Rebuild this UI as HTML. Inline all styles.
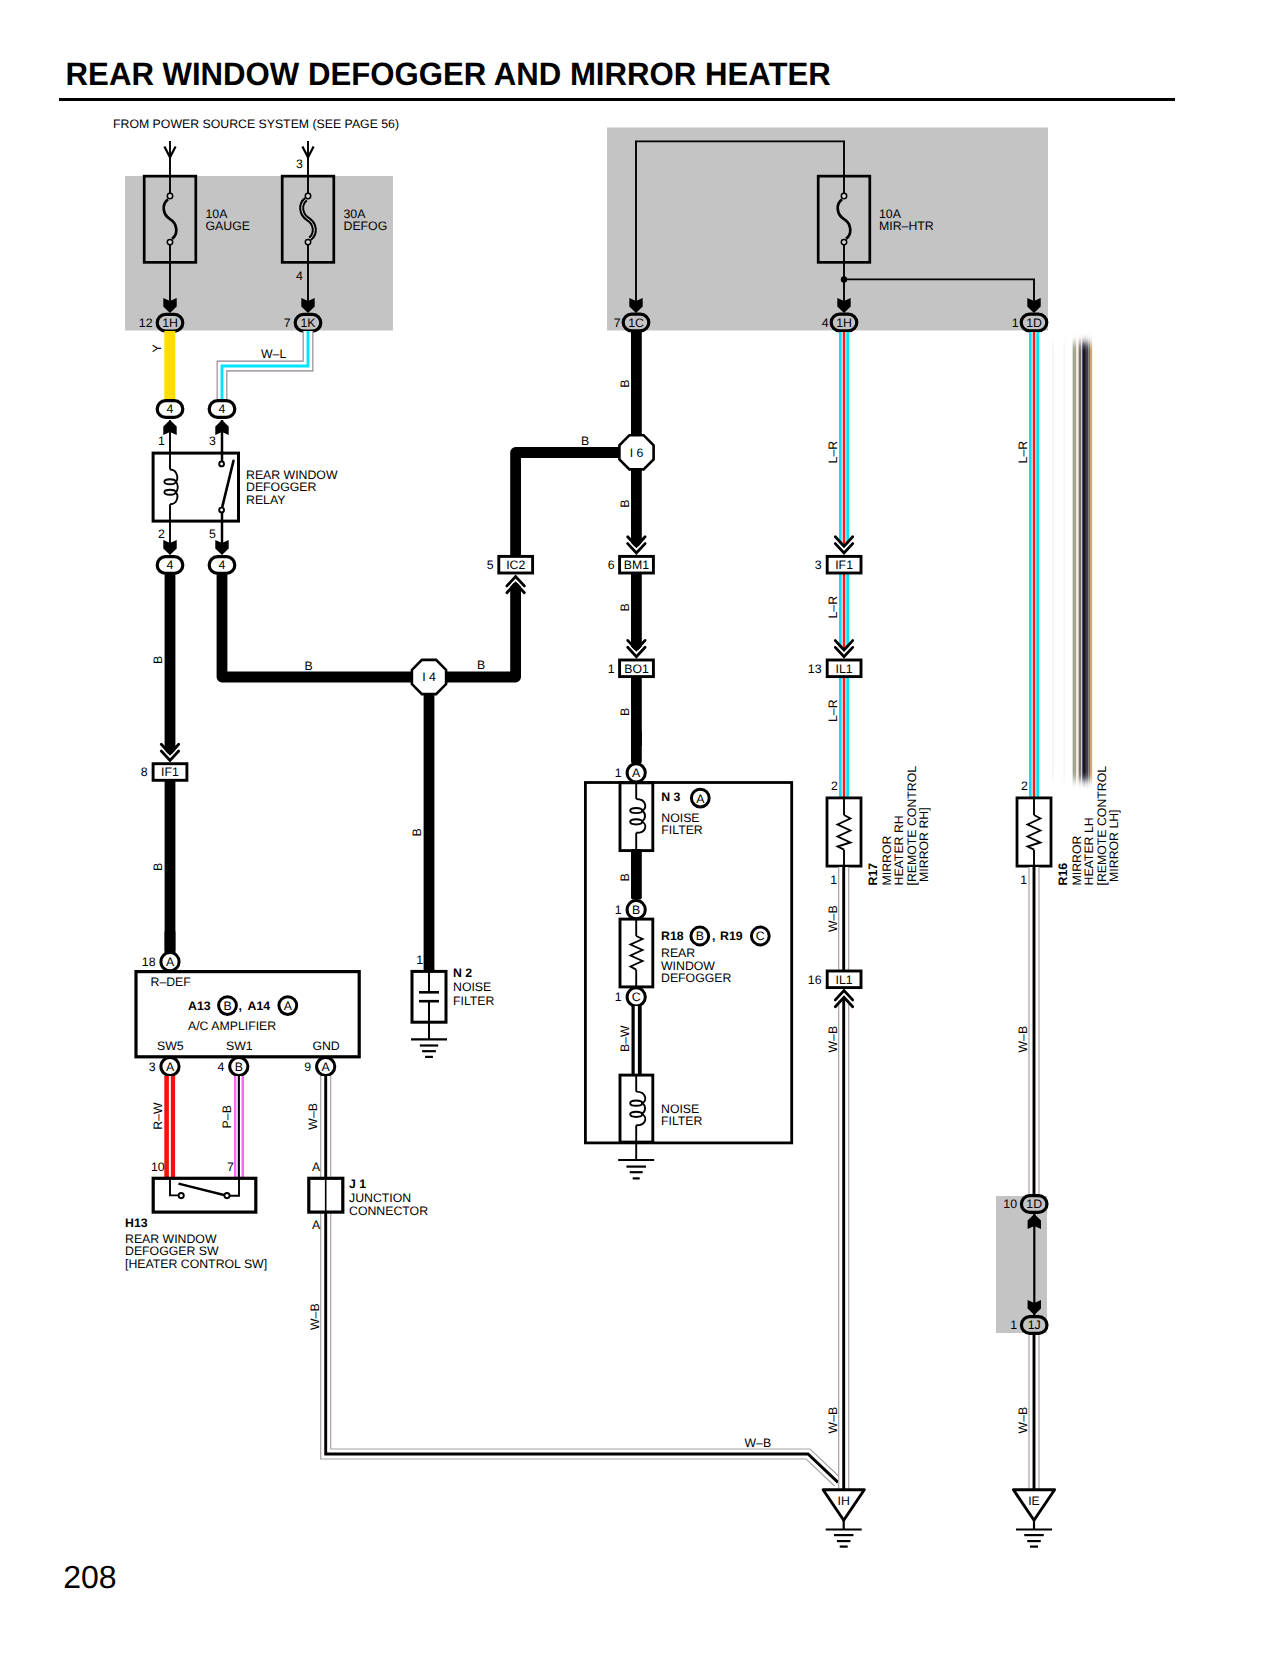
<!DOCTYPE html>
<html><head><meta charset="utf-8"><style>
html,body{margin:0;padding:0;background:#fff;}
svg{display:block;}
text{font-family:"Liberation Sans",sans-serif;fill:#000;text-rendering:geometricPrecision;}
.t{}
</style></head><body>
<svg width="1280" height="1656" viewBox="0 0 1280 1656">
<text transform="translate(65.6,85.3) scale(0.962,1)" font-size="32.4" font-weight="bold">REAR WINDOW DEFOGGER AND MIRROR HEATER</text>
<rect x="59" y="98" width="1116" height="3" fill="#000"/>
<text x="113" y="128" font-size="12.3" text-anchor="start" class="t" >FROM POWER SOURCE SYSTEM (SEE PAGE 56)</text>
<text x="63.2" y="1587.6" font-size="32" text-anchor="start" class="t" >208</text>
<rect x="125" y="176" width="268" height="154.5" fill="#c4c4c4"/>
<rect x="607" y="127.5" width="441" height="203" fill="#c4c4c4"/>
<rect x="996" y="1196" width="51" height="137" fill="#c4c4c4"/>
<path d="M164.4,146.5 L170,157.3 L175.6,146.5" stroke="#000" stroke-width="2.2" fill="none" stroke-linejoin="miter" stroke-linecap="butt"/>
<path d="M302.4,146.5 L308,157.3 L313.6,146.5" stroke="#000" stroke-width="2.2" fill="none" stroke-linejoin="miter" stroke-linecap="butt"/>
<rect x="144.2" y="176.14999999999998" width="51.6" height="86.2" stroke="#000" stroke-width="2.7" fill="none"/>
<line x1="170" y1="141" x2="170" y2="193.0" stroke="#000" stroke-width="1.9" stroke-linecap="butt"/>
<line x1="170" y1="245.1" x2="170" y2="306" stroke="#000" stroke-width="1.9" stroke-linecap="butt"/>
<path d="M168,199.3 C161.5,204.0 162.5,214.55 170,219.05 C177.5,223.55 178.5,234.1 172,238.79999999999998" stroke="#000" stroke-width="2.7" fill="none" stroke-linejoin="miter" stroke-linecap="butt"/>
<circle cx="170" cy="196.0" r="2.7" stroke="#000" stroke-width="1.5" fill="#d6dada"/>
<circle cx="170" cy="242.1" r="2.7" stroke="#000" stroke-width="1.5" fill="#d6dada"/>
<text x="205.5" y="217.7" font-size="12.3" text-anchor="start" class="t" >10A</text>
<text x="205.5" y="230.2" font-size="12.3" text-anchor="start" class="t" >GAUGE</text>
<rect x="282.2" y="176.14999999999998" width="51.6" height="86.2" stroke="#000" stroke-width="2.7" fill="none"/>
<line x1="308" y1="141" x2="308" y2="193.0" stroke="#000" stroke-width="1.9" stroke-linecap="butt"/>
<line x1="308" y1="245.1" x2="308" y2="306" stroke="#000" stroke-width="1.9" stroke-linecap="butt"/>
<path d="M306,199.3 C299.5,204.0 300.5,214.55 308,219.05 C315.5,223.55 316.5,234.1 310,238.79999999999998" stroke="#000" stroke-width="5.0" fill="none" stroke-linejoin="miter" stroke-linecap="butt"/>
<path d="M306,199.3 C299.5,204.0 300.5,214.55 308,219.05 C315.5,223.55 316.5,234.1 310,238.79999999999998" stroke="#e0e0e0" stroke-width="1.0" fill="none" stroke-linejoin="miter" stroke-linecap="butt"/>
<circle cx="308" cy="196.0" r="2.7" stroke="#000" stroke-width="1.5" fill="#d6dada"/>
<circle cx="308" cy="242.1" r="2.7" stroke="#000" stroke-width="1.5" fill="#d6dada"/>
<text x="343.5" y="217.7" font-size="12.3" text-anchor="start" class="t" >30A</text>
<text x="343.5" y="230.2" font-size="12.3" text-anchor="start" class="t" >DEFOG</text>
<text x="296" y="168.3" font-size="12.3" text-anchor="start" class="t" >3</text>
<text x="296" y="280" font-size="12.3" text-anchor="start" class="t" >4</text>
<polygon points="163.30,298.00 170.00,301.00 176.70,298.00 176.70,306.40 170.00,313.00 163.30,306.40" fill="#000"/>
<polygon points="301.30,298.00 308.00,301.00 314.70,298.00 314.70,306.40 308.00,313.00 301.30,306.40" fill="#000"/>
<rect x="157.2" y="314.3" width="25.6" height="16.8" rx="8.4" stroke="#000" stroke-width="3.2" fill="#c4c4c4"/>
<text x="170" y="327.09999999999997" font-size="12.3" text-anchor="middle" class="t" >1H</text>
<rect x="295.2" y="314.3" width="25.6" height="16.8" rx="8.4" stroke="#000" stroke-width="3.2" fill="#c4c4c4"/>
<text x="308" y="327.09999999999997" font-size="12.3" text-anchor="middle" class="t" >1K</text>
<text x="152.5" y="326.6" font-size="12.3" text-anchor="end" class="t" >12</text>
<text x="290.5" y="326.6" font-size="12.3" text-anchor="end" class="t" >7</text>
<path d="M636,306 L636,141.4 L844,141.4 L844,178" stroke="#000" stroke-width="1.9" fill="none" stroke-linejoin="miter" stroke-linecap="butt"/>
<path d="M844,279.4 L1034,279.4 L1034,306" stroke="#000" stroke-width="1.9" fill="none" stroke-linejoin="miter" stroke-linecap="butt"/>
<circle cx="844" cy="279.4" r="3.2" fill="#000"/>
<rect x="818.2" y="176.14999999999998" width="51.6" height="86.2" stroke="#000" stroke-width="2.7" fill="none"/>
<line x1="844" y1="178" x2="844" y2="193.0" stroke="#000" stroke-width="1.9" stroke-linecap="butt"/>
<line x1="844" y1="245.1" x2="844" y2="306" stroke="#000" stroke-width="1.9" stroke-linecap="butt"/>
<path d="M842,199.3 C835.5,204.0 836.5,214.55 844,219.05 C851.5,223.55 852.5,234.1 846,238.79999999999998" stroke="#000" stroke-width="2.7" fill="none" stroke-linejoin="miter" stroke-linecap="butt"/>
<circle cx="844" cy="196.0" r="2.7" stroke="#000" stroke-width="1.5" fill="#d6dada"/>
<circle cx="844" cy="242.1" r="2.7" stroke="#000" stroke-width="1.5" fill="#d6dada"/>
<text x="879" y="217.7" font-size="12.3" text-anchor="start" class="t" >10A</text>
<text x="879" y="230.2" font-size="12.3" text-anchor="start" class="t" >MIR–HTR</text>
<polygon points="629.30,298.00 636.00,301.00 642.70,298.00 642.70,306.40 636.00,313.00 629.30,306.40" fill="#000"/>
<polygon points="837.30,298.00 844.00,301.00 850.70,298.00 850.70,306.40 844.00,313.00 837.30,306.40" fill="#000"/>
<polygon points="1027.30,298.00 1034.00,301.00 1040.70,298.00 1040.70,306.40 1034.00,313.00 1027.30,306.40" fill="#000"/>
<rect x="623.2" y="314.1" width="25.6" height="16.8" rx="8.4" stroke="#000" stroke-width="3.2" fill="#c4c4c4"/>
<text x="636" y="326.9" font-size="12.3" text-anchor="middle" class="t" >1C</text>
<rect x="831.2" y="314.1" width="25.6" height="16.8" rx="8.4" stroke="#000" stroke-width="3.2" fill="#c4c4c4"/>
<text x="844" y="326.9" font-size="12.3" text-anchor="middle" class="t" >1H</text>
<rect x="1021.2" y="314.1" width="25.6" height="16.8" rx="8.4" stroke="#000" stroke-width="3.2" fill="#c4c4c4"/>
<text x="1034" y="326.9" font-size="12.3" text-anchor="middle" class="t" >1D</text>
<text x="620.5" y="326.6" font-size="12.3" text-anchor="end" class="t" >7</text>
<text x="828.5" y="326.6" font-size="12.3" text-anchor="end" class="t" >4</text>
<text x="1018.5" y="326.6" font-size="12.3" text-anchor="end" class="t" >1</text>
<rect x="164.3" y="331" width="11" height="68" fill="#ffdd00"/>
<path d="M308,331 L308,366 L222,366 L222,400" stroke="#8c8290" stroke-width="10.8" fill="none" stroke-linejoin="miter" stroke-linecap="butt"/>
<path d="M308,331 L308,366 L222,366 L222,400" stroke="#fff" stroke-width="8.6" fill="none" stroke-linejoin="miter" stroke-linecap="butt"/>
<path d="M308,331 L308,366 L222,366 L222,400" stroke="#00e4ff" stroke-width="2.9" fill="none" stroke-linejoin="miter" stroke-linecap="butt"/>
<text transform="translate(160.5,352.5) rotate(-90)" font-size="12.3" text-anchor="start" class="t">Y</text>
<text x="261" y="358" font-size="12.3" text-anchor="start" class="t" >W–L</text>
<rect x="157.2" y="400.6" width="25.6" height="16.8" rx="8.4" stroke="#000" stroke-width="3.2" fill="#fff"/>
<text x="170" y="413.4" font-size="12.3" text-anchor="middle" class="t" >4</text>
<rect x="209.2" y="400.6" width="25.6" height="16.8" rx="8.4" stroke="#000" stroke-width="3.2" fill="#fff"/>
<text x="222" y="413.4" font-size="12.3" text-anchor="middle" class="t" >4</text>
<line x1="222" y1="420" x2="222" y2="463" stroke="#000" stroke-width="2.5" stroke-linecap="butt"/>
<line x1="222" y1="510" x2="222" y2="552" stroke="#000" stroke-width="2.5" stroke-linecap="butt"/>
<polygon points="163.30,435.00 170.00,432.00 176.70,435.00 176.70,426.60 170.00,420.00 163.30,426.60" fill="#000"/>
<polygon points="215.30,435.00 222.00,432.00 228.70,435.00 228.70,426.60 222.00,420.00 215.30,426.60" fill="#000"/>
<polygon points="163.30,540.00 170.00,543.00 176.70,540.00 176.70,548.40 170.00,555.00 163.30,548.40" fill="#000"/>
<polygon points="215.30,540.00 222.00,543.00 228.70,540.00 228.70,548.40 222.00,555.00 215.30,548.40" fill="#000"/>
<rect x="153.1" y="453.1" width="85.4" height="68" stroke="#000" stroke-width="3" fill="none"/>
<text x="158" y="444.5" font-size="12.3" text-anchor="start" class="t" >1</text>
<text x="209" y="444.5" font-size="12.3" text-anchor="start" class="t" >3</text>
<text x="158" y="538" font-size="12.3" text-anchor="start" class="t" >2</text>
<text x="209" y="538" font-size="12.3" text-anchor="start" class="t" >5</text>
<text x="246" y="479" font-size="12.3" text-anchor="start" class="t" >REAR WINDOW</text>
<text x="246" y="491.3" font-size="12.3" text-anchor="start" class="t" >DEFOGGER</text>
<text x="246" y="503.6" font-size="12.3" text-anchor="start" class="t" >RELAY</text>
<rect x="157.2" y="556.6" width="25.6" height="16.8" rx="8.4" stroke="#000" stroke-width="3.2" fill="#fff"/>
<text x="170" y="569.4" font-size="12.3" text-anchor="middle" class="t" >4</text>
<rect x="209.2" y="556.6" width="25.6" height="16.8" rx="8.4" stroke="#000" stroke-width="3.2" fill="#fff"/>
<text x="222" y="569.4" font-size="12.3" text-anchor="middle" class="t" >4</text>
<path d="M170,469.5 C178.5,469.5 178.5,481.6 175.5,481.6" stroke="#000" stroke-width="1.9" fill="none" stroke-linejoin="miter" stroke-linecap="butt"/>
<ellipse cx="170" cy="481.8" rx="5.6" ry="2.5" stroke="#000" stroke-width="1.9" fill="none"/>
<path d="M175.5,481.6 C178.6,484 178.6,490 175.5,492.3" stroke="#000" stroke-width="1.9" fill="none" stroke-linejoin="miter" stroke-linecap="butt"/>
<ellipse cx="170" cy="492.3" rx="5.6" ry="2.5" stroke="#000" stroke-width="1.9" fill="none"/>
<path d="M175.5,492.3 C178.5,494 178.5,504.2 170,504.2" stroke="#000" stroke-width="1.9" fill="none" stroke-linejoin="miter" stroke-linecap="butt"/>
<line x1="170" y1="420" x2="170" y2="469.5" stroke="#000" stroke-width="1.9" stroke-linecap="butt"/>
<line x1="170" y1="504.2" x2="170" y2="552" stroke="#000" stroke-width="1.9" stroke-linecap="butt"/>
<line x1="233.5" y1="460.8" x2="222.4" y2="506.4" stroke="#000" stroke-width="2.6" stroke-linecap="round"/>
<circle cx="221.6" cy="463.9" r="2.4" stroke="#000" stroke-width="1.9" fill="#fff"/>
<circle cx="221.6" cy="510" r="2.4" stroke="#000" stroke-width="1.9" fill="#fff"/>
<path d="M170,575 L170,754" stroke="#000" stroke-width="10.8" fill="none" stroke-linejoin="round" stroke-linecap="butt"/>
<rect x="164.6" y="778" width="10.8" height="175" fill="#000"/>
<rect x="164.6" y="930" width="10.8" height="22.5" rx="2.6" fill="#000"/>
<path d="M222,575 L222,677 L412,677" stroke="#000" stroke-width="10.8" fill="none" stroke-linejoin="round" stroke-linecap="butt"/>
<path d="M446,677 L515.6,677 L515.6,583" stroke="#000" stroke-width="10.8" fill="none" stroke-linejoin="round" stroke-linecap="butt"/>
<path d="M515.6,555 L515.6,452.5 L619,452.5" stroke="#000" stroke-width="10.8" fill="none" stroke-linejoin="round" stroke-linecap="butt"/>
<path d="M636.4,332 L636.4,435" stroke="#000" stroke-width="10.8" fill="none" stroke-linejoin="round" stroke-linecap="butt"/>
<path d="M636.4,470 L636.4,546.5" stroke="#000" stroke-width="10.8" fill="none" stroke-linejoin="round" stroke-linecap="butt"/>
<path d="M636.4,574 L636.4,650" stroke="#000" stroke-width="10.8" fill="none" stroke-linejoin="round" stroke-linecap="butt"/>
<rect x="631" y="676" width="10.8" height="70" fill="#000"/>
<rect x="631" y="730" width="10.8" height="33.5" rx="2.6" fill="#000"/>
<path d="M429,695 L429,971" stroke="#000" stroke-width="10.8" fill="none" stroke-linejoin="round" stroke-linecap="butt"/>
<path d="M161.3,751.0 L170,760.4 L178.7,751.0" stroke="#fff" stroke-width="6.0" fill="none" stroke-linejoin="miter" stroke-linecap="round"/>
<path d="M161.3,751.0 L170,760.4 L178.7,751.0" stroke="#000" stroke-width="2.8" fill="none" stroke-linejoin="miter" stroke-linecap="round"/>
<path d="M161.3,744.2 L170,753.6 L178.7,744.2" stroke="#000" stroke-width="2.8" fill="none" stroke-linejoin="miter" stroke-linecap="round"/>
<path d="M627.6999999999999,543.6 L636.4,553 L645.1,543.6" stroke="#fff" stroke-width="6.0" fill="none" stroke-linejoin="miter" stroke-linecap="round"/>
<path d="M627.6999999999999,543.6 L636.4,553 L645.1,543.6" stroke="#000" stroke-width="2.8" fill="none" stroke-linejoin="miter" stroke-linecap="round"/>
<path d="M627.6999999999999,536.8000000000001 L636.4,546.2 L645.1,536.8000000000001" stroke="#000" stroke-width="2.8" fill="none" stroke-linejoin="miter" stroke-linecap="round"/>
<path d="M627.6999999999999,647.2 L636.4,656.6 L645.1,647.2" stroke="#fff" stroke-width="6.0" fill="none" stroke-linejoin="miter" stroke-linecap="round"/>
<path d="M627.6999999999999,647.2 L636.4,656.6 L645.1,647.2" stroke="#000" stroke-width="2.8" fill="none" stroke-linejoin="miter" stroke-linecap="round"/>
<path d="M627.6999999999999,640.4000000000001 L636.4,649.8000000000001 L645.1,640.4000000000001" stroke="#000" stroke-width="2.8" fill="none" stroke-linejoin="miter" stroke-linecap="round"/>
<path d="M506.90000000000003,585.9 L515.6,576.5 L524.3000000000001,585.9" stroke="#fff" stroke-width="6.0" fill="none" stroke-linejoin="miter" stroke-linecap="round"/>
<path d="M506.90000000000003,585.9 L515.6,576.5 L524.3000000000001,585.9" stroke="#000" stroke-width="2.8" fill="none" stroke-linejoin="miter" stroke-linecap="round"/>
<path d="M506.90000000000003,592.6999999999999 L515.6,583.3 L524.3000000000001,592.6999999999999" stroke="#000" stroke-width="2.8" fill="none" stroke-linejoin="miter" stroke-linecap="round"/>
<rect x="153.1" y="763.7" width="33.8" height="16.6" stroke="#000" stroke-width="2.9" fill="#fff"/>
<text x="170" y="776.4" font-size="12.3" text-anchor="middle" class="t" >IF1</text>
<text x="147.5" y="776.3" font-size="12.3" text-anchor="end" class="t" >8</text>
<rect x="498.80000000000007" y="556.4000000000001" width="33.8" height="16.6" stroke="#000" stroke-width="2.9" fill="#fff"/>
<text x="515.7" y="569.1" font-size="12.3" text-anchor="middle" class="t" >IC2</text>
<text x="493.5" y="569" font-size="12.3" text-anchor="end" class="t" >5</text>
<rect x="619.6" y="556.4000000000001" width="33.8" height="16.6" stroke="#000" stroke-width="2.9" fill="#fff"/>
<text x="636.5" y="569.1" font-size="12.3" text-anchor="middle" class="t" >BM1</text>
<text x="614.5" y="569" font-size="12.3" text-anchor="end" class="t" >6</text>
<rect x="619.6" y="660.0" width="33.8" height="16.6" stroke="#000" stroke-width="2.9" fill="#fff"/>
<text x="636.5" y="672.6999999999999" font-size="12.3" text-anchor="middle" class="t" >BO1</text>
<text x="614.5" y="672.6" font-size="12.3" text-anchor="end" class="t" >1</text>
<polygon points="629.42,435.20 643.58,435.20 653.60,445.22 653.60,459.38 643.58,469.40 629.42,469.40 619.40,459.38 619.40,445.22" stroke="#000" stroke-width="2.6" fill="#fff"/>
<text x="636.5" y="456.7" font-size="12.3" text-anchor="middle" class="t" >I 6</text>
<polygon points="421.92,659.90 436.08,659.90 446.10,669.92 446.10,684.08 436.08,694.10 421.92,694.10 411.90,684.08 411.90,669.92" stroke="#000" stroke-width="2.6" fill="#fff"/>
<text x="429" y="681.4" font-size="12.3" text-anchor="middle" class="t" >I 4</text>
<text x="581" y="444.7" font-size="12.3" text-anchor="start" class="t" >B</text>
<text x="477" y="669.3" font-size="12.3" text-anchor="start" class="t" >B</text>
<text x="304.5" y="669.6" font-size="12.3" text-anchor="start" class="t" >B</text>
<text transform="translate(629.4,387.7) rotate(-90)" font-size="12.3" text-anchor="start" class="t">B</text>
<text transform="translate(629.4,507.8) rotate(-90)" font-size="12.3" text-anchor="start" class="t">B</text>
<text transform="translate(629.4,611.4) rotate(-90)" font-size="12.3" text-anchor="start" class="t">B</text>
<text transform="translate(629.4,716) rotate(-90)" font-size="12.3" text-anchor="start" class="t">B</text>
<text transform="translate(161.8,664) rotate(-90)" font-size="12.3" text-anchor="start" class="t">B</text>
<text transform="translate(161.8,871) rotate(-90)" font-size="12.3" text-anchor="start" class="t">B</text>
<text transform="translate(421.4,836.6) rotate(-90)" font-size="12.3" text-anchor="start" class="t">B</text>
<circle cx="170" cy="961.7" r="9.1" stroke="#000" stroke-width="3.0" fill="#fff"/>
<text x="170" y="966.1" font-size="12.3" text-anchor="middle" class="t" >A</text>
<text x="155.5" y="966" font-size="12.3" text-anchor="end" class="t" >18</text>
<rect x="136" y="971.6" width="223.2" height="85.2" stroke="#000" stroke-width="3.2" fill="none"/>
<text x="150.5" y="985.8" font-size="12.3" text-anchor="start" class="t" >R–DEF</text>
<text x="188" y="1010" font-size="12.3" text-anchor="start" font-weight="bold" >A13</text>
<circle cx="227.5" cy="1005.6" r="8.9" stroke="#000" stroke-width="3" fill="#fff"/>
<text x="227.5" y="1010.0" font-size="12.3" text-anchor="middle" class="t" >B</text>
<text x="238.5" y="1010" font-size="12.3" text-anchor="start" font-weight="bold" >,</text>
<text x="247.5" y="1010" font-size="12.3" text-anchor="start" font-weight="bold" >A14</text>
<circle cx="287.8" cy="1005.6" r="8.9" stroke="#000" stroke-width="3" fill="#fff"/>
<text x="287.8" y="1010.0" font-size="12.3" text-anchor="middle" class="t" >A</text>
<text x="188" y="1030" font-size="12.3" text-anchor="start" class="t" >A/C AMPLIFIER</text>
<text x="157" y="1050" font-size="12.3" text-anchor="start" class="t" >SW5</text>
<text x="226" y="1050" font-size="12.3" text-anchor="start" class="t" >SW1</text>
<text x="312.4" y="1050" font-size="12.3" text-anchor="start" class="t" >GND</text>
<circle cx="170" cy="1066.5" r="9.1" stroke="#000" stroke-width="3.0" fill="#fff"/>
<text x="170" y="1070.9" font-size="12.3" text-anchor="middle" class="t" >A</text>
<text x="155.5" y="1070.8" font-size="12.3" text-anchor="end" class="t" >3</text>
<circle cx="238.8" cy="1066.5" r="9.1" stroke="#000" stroke-width="3.0" fill="#fff"/>
<text x="238.8" y="1070.9" font-size="12.3" text-anchor="middle" class="t" >B</text>
<text x="224.3" y="1070.8" font-size="12.3" text-anchor="end" class="t" >4</text>
<circle cx="325.7" cy="1066.5" r="9.1" stroke="#000" stroke-width="3.0" fill="#fff"/>
<text x="325.7" y="1070.9" font-size="12.3" text-anchor="middle" class="t" >A</text>
<text x="311.2" y="1070.8" font-size="12.3" text-anchor="end" class="t" >9</text>
<rect x="412" y="971.4" width="34" height="50.8" stroke="#000" stroke-width="3" fill="none"/>
<line x1="429" y1="971" x2="429" y2="992.3" stroke="#000" stroke-width="2" stroke-linecap="butt"/>
<line x1="429" y1="1001.2" x2="429" y2="1040" stroke="#000" stroke-width="2" stroke-linecap="butt"/>
<line x1="419" y1="992.3" x2="439" y2="992.3" stroke="#000" stroke-width="2.6" stroke-linecap="butt"/>
<line x1="419" y1="1001.2" x2="439" y2="1001.2" stroke="#000" stroke-width="2.6" stroke-linecap="butt"/>
<line x1="411.0" y1="1039.3" x2="447.0" y2="1039.3" stroke="#000" stroke-width="2.2" stroke-linecap="butt"/>
<line x1="419.8" y1="1045.5" x2="438.2" y2="1045.5" stroke="#000" stroke-width="2.2" stroke-linecap="butt"/>
<line x1="422.1" y1="1051.2" x2="435.9" y2="1051.2" stroke="#000" stroke-width="2.2" stroke-linecap="butt"/>
<line x1="425.1" y1="1056.8999999999999" x2="432.9" y2="1056.8999999999999" stroke="#000" stroke-width="2.2" stroke-linecap="butt"/>
<text x="423" y="964" font-size="12.3" text-anchor="end" class="t" >1</text>
<text x="453" y="977.4" font-size="12.3" text-anchor="start" font-weight="bold" >N 2</text>
<text x="453" y="991.4" font-size="12.3" text-anchor="start" class="t" >NOISE</text>
<text x="453" y="1004.8" font-size="12.3" text-anchor="start" class="t" >FILTER</text>
<rect x="164.3" y="1076" width="10.8" height="102" fill="#f81010"/>
<rect x="168.9" y="1076" width="1.9" height="102" fill="#fff"/>
<rect x="234" y="1076" width="10" height="102" fill="#ff66ff"/>
<rect x="236.4" y="1076" width="5.1" height="102" fill="#fff"/>
<rect x="237.8" y="1076" width="2.1" height="102" fill="#000"/>
<text transform="translate(161.8,1129.7) rotate(-90)" font-size="12.3" text-anchor="start" class="t">R–W</text>
<text transform="translate(230.8,1128.4) rotate(-90)" font-size="12.3" text-anchor="start" class="t">P–B</text>
<text transform="translate(317,1129.7) rotate(-90)" font-size="12.3" text-anchor="start" class="t">W–B</text>
<text x="151" y="1171" font-size="12.3" text-anchor="start" class="t" >10</text>
<text x="227" y="1171" font-size="12.3" text-anchor="start" class="t" >7</text>
<rect x="153.2" y="1178.3" width="102.6" height="33.8" stroke="#000" stroke-width="3.2" fill="none"/>
<path d="M170,1178 L170,1195.4 L178,1195.4" stroke="#000" stroke-width="1.9" fill="none" stroke-linejoin="miter" stroke-linecap="butt"/>
<path d="M239,1178 L239,1195.8 L230,1195.8" stroke="#000" stroke-width="1.9" fill="none" stroke-linejoin="miter" stroke-linecap="butt"/>
<line x1="178.5" y1="1183.6" x2="226" y2="1195.5" stroke="#000" stroke-width="2.4" stroke-linecap="butt"/>
<circle cx="181.2" cy="1195.6" r="2.6" stroke="#000" stroke-width="1.9" fill="#fff"/>
<circle cx="227" cy="1195.6" r="2.6" stroke="#000" stroke-width="1.9" fill="#fff"/>
<text x="125" y="1227.4" font-size="12.3" text-anchor="start" font-weight="bold" >H13</text>
<text x="125" y="1242.6" font-size="12.3" text-anchor="start" class="t" >REAR WINDOW</text>
<text x="125" y="1255.3" font-size="12.3" text-anchor="start" class="t" >DEFOGGER SW</text>
<text x="125" y="1267.8" font-size="12.3" text-anchor="start" class="t" >[HEATER CONTROL SW]</text>
<path d="M325.7,1076 L325.7,1179" stroke="#aaa0a6" stroke-width="11.2" fill="none" stroke-linejoin="miter" stroke-linecap="butt"/>
<path d="M325.7,1076 L325.7,1179" stroke="#fff" stroke-width="8.8" fill="none" stroke-linejoin="miter" stroke-linecap="butt"/>
<path d="M325.7,1076 L325.7,1179" stroke="#000" stroke-width="2.9" fill="none" stroke-linejoin="miter" stroke-linecap="butt"/>
<path d="M325.7,1211 L325.7,1454 L808,1454 L838,1482.4" stroke="#aaa0a6" stroke-width="11.2" fill="none" stroke-linejoin="miter" stroke-linecap="butt"/>
<path d="M325.7,1211 L325.7,1454 L808,1454 L838,1482.4" stroke="#fff" stroke-width="8.8" fill="none" stroke-linejoin="miter" stroke-linecap="butt"/>
<path d="M325.7,1211 L325.7,1454 L808,1454 L838,1482.4" stroke="#000" stroke-width="2.9" fill="none" stroke-linejoin="miter" stroke-linecap="butt"/>
<rect x="308.8" y="1178.3" width="34" height="33.8" stroke="#000" stroke-width="3.2" fill="none"/>
<line x1="325.7" y1="1178" x2="325.7" y2="1212" stroke="#000" stroke-width="1.6" stroke-linecap="butt"/>
<text x="312" y="1171" font-size="12.3" text-anchor="start" class="t" >A</text>
<text x="312" y="1229" font-size="12.3" text-anchor="start" class="t" >A</text>
<text x="349" y="1187.6" font-size="12.3" text-anchor="start" font-weight="bold" >J 1</text>
<text x="349" y="1202" font-size="12.3" text-anchor="start" class="t" >JUNCTION</text>
<text x="349" y="1214.5" font-size="12.3" text-anchor="start" class="t" >CONNECTOR</text>
<text transform="translate(318.7,1330) rotate(-90)" font-size="12.3" text-anchor="start" class="t">W–B</text>
<text x="744.5" y="1446.8" font-size="12.3" text-anchor="start" class="t" >W–B</text>
<rect x="585.4" y="782.5" width="206.3" height="360.4" stroke="#000" stroke-width="2.8" fill="none"/>
<circle cx="636.2" cy="772.8" r="9.1" stroke="#000" stroke-width="3.0" fill="#fff"/>
<text x="636.2" y="777.1999999999999" font-size="12.3" text-anchor="middle" class="t" >A</text>
<text x="621.6" y="777" font-size="12.3" text-anchor="end" class="t" >1</text>
<rect x="620" y="782.8" width="32.8" height="67.8" stroke="#000" stroke-width="2.9" fill="none"/>
<line x1="636.2" y1="782" x2="636.2" y2="799" stroke="#000" stroke-width="1.9" stroke-linecap="butt"/>
<path d="M636.2,799 C647.2,799 647.2,810.2666666666667 641.7,810.2666666666667" stroke="#000" stroke-width="1.9" fill="none" stroke-linejoin="miter" stroke-linecap="butt"/>
<ellipse cx="636.2" cy="810.5666666666666" rx="6" ry="2.6" stroke="#000" stroke-width="1.9" fill="none"/>
<path d="M641.7,810.2666666666667 C646.2,813.2666666666667 646.2,818.5333333333333 641.7,821.5333333333333" stroke="#000" stroke-width="1.9" fill="none" stroke-linejoin="miter" stroke-linecap="butt"/>
<ellipse cx="636.2" cy="821.8333333333333" rx="6" ry="2.6" stroke="#000" stroke-width="1.9" fill="none"/>
<path d="M641.7,821.5333333333333 C647.2,823.5333333333333 647.2,832.8 636.2,832.8" stroke="#000" stroke-width="1.9" fill="none" stroke-linejoin="miter" stroke-linecap="butt"/>
<line x1="636.2" y1="832.8" x2="636.2" y2="851" stroke="#000" stroke-width="1.9" stroke-linecap="butt"/>
<text x="661.3" y="801.3" font-size="12.3" text-anchor="start" font-weight="bold" >N 3</text>
<circle cx="700.3" cy="798.1" r="8.9" stroke="#000" stroke-width="3" fill="#fff"/>
<text x="700.3" y="802.5" font-size="12.3" text-anchor="middle" class="t" >A</text>
<text x="661.3" y="821.6" font-size="12.3" text-anchor="start" class="t" >NOISE</text>
<text x="661.3" y="834" font-size="12.3" text-anchor="start" class="t" >FILTER</text>
<rect x="631" y="849" width="10.8" height="50.5" rx="2.6" fill="#000"/>
<text transform="translate(628.5,881.6) rotate(-90)" font-size="12.3" text-anchor="start" class="t">B</text>
<circle cx="636.2" cy="909.7" r="9.1" stroke="#000" stroke-width="3.0" fill="#fff"/>
<text x="636.2" y="914.1" font-size="12.3" text-anchor="middle" class="t" >B</text>
<text x="621.6" y="914" font-size="12.3" text-anchor="end" class="t" >1</text>
<rect x="620" y="919.1" width="32.8" height="67.8" stroke="#000" stroke-width="2.9" fill="none"/>
<line x1="636.2" y1="918" x2="636.2" y2="936" stroke="#000" stroke-width="1.9" stroke-linecap="butt"/>
<path d="M636.2,936 L642.5,939 L630.5,944.5 L642.5,950 L630.5,955.5 L642.5,961 L630.5,966.5 L636.2,969.7" stroke="#000" stroke-width="1.9" fill="none" stroke-linejoin="miter" stroke-linecap="butt"/>
<line x1="636.2" y1="969.7" x2="636.2" y2="988" stroke="#000" stroke-width="1.9" stroke-linecap="butt"/>
<text x="661" y="939.7" font-size="12.3" text-anchor="start" font-weight="bold" >R18</text>
<circle cx="699.8" cy="936" r="8.9" stroke="#000" stroke-width="3" fill="#fff"/>
<text x="699.8" y="940.4" font-size="12.3" text-anchor="middle" class="t" >B</text>
<text x="712" y="939.7" font-size="12.3" text-anchor="start" font-weight="bold" >,</text>
<text x="720" y="939.7" font-size="12.3" text-anchor="start" font-weight="bold" >R19</text>
<circle cx="760.3" cy="936" r="8.9" stroke="#000" stroke-width="3" fill="#fff"/>
<text x="760.3" y="940.4" font-size="12.3" text-anchor="middle" class="t" >C</text>
<text x="661" y="957" font-size="12.3" text-anchor="start" class="t" >REAR</text>
<text x="661" y="969.7" font-size="12.3" text-anchor="start" class="t" >WINDOW</text>
<text x="661" y="982.4" font-size="12.3" text-anchor="start" class="t" >DEFOGGER</text>
<circle cx="636.2" cy="996.9" r="9.1" stroke="#000" stroke-width="3.0" fill="#fff"/>
<text x="636.2" y="1001.3" font-size="12.3" text-anchor="middle" class="t" >C</text>
<text x="621.6" y="1001" font-size="12.3" text-anchor="end" class="t" >1</text>
<path d="M636.6,1006 L636.6,1074" stroke="#000" stroke-width="10.2" fill="none" stroke-linejoin="miter" stroke-linecap="butt"/>
<path d="M636.3,1006 L636.3,1074" stroke="#fff" stroke-width="3.2" fill="none" stroke-linejoin="miter" stroke-linecap="butt"/>
<text transform="translate(629,1052) rotate(-90)" font-size="12.3" text-anchor="start" class="t">B–W</text>
<rect x="620" y="1075.1" width="32.8" height="67" stroke="#000" stroke-width="2.9" fill="none"/>
<line x1="636.2" y1="1074" x2="636.2" y2="1091.6" stroke="#000" stroke-width="1.9" stroke-linecap="butt"/>
<path d="M636.2,1091.6 C647.2,1091.6 647.2,1102.8333333333333 641.7,1102.8333333333333" stroke="#000" stroke-width="1.9" fill="none" stroke-linejoin="miter" stroke-linecap="butt"/>
<ellipse cx="636.2" cy="1103.1333333333332" rx="6" ry="2.6" stroke="#000" stroke-width="1.9" fill="none"/>
<path d="M641.7,1102.8333333333333 C646.2,1105.8333333333333 646.2,1111.0666666666666 641.7,1114.0666666666666" stroke="#000" stroke-width="1.9" fill="none" stroke-linejoin="miter" stroke-linecap="butt"/>
<ellipse cx="636.2" cy="1114.3666666666666" rx="6" ry="2.6" stroke="#000" stroke-width="1.9" fill="none"/>
<path d="M641.7,1114.0666666666666 C647.2,1116.0666666666666 647.2,1125.3 636.2,1125.3" stroke="#000" stroke-width="1.9" fill="none" stroke-linejoin="miter" stroke-linecap="butt"/>
<line x1="636.2" y1="1125.3" x2="636.2" y2="1160" stroke="#000" stroke-width="1.9" stroke-linecap="butt"/>
<text x="661" y="1112.6" font-size="12.3" text-anchor="start" class="t" >NOISE</text>
<text x="661" y="1125" font-size="12.3" text-anchor="start" class="t" >FILTER</text>
<line x1="618.2" y1="1160" x2="654.2" y2="1160" stroke="#000" stroke-width="2.2" stroke-linecap="butt"/>
<line x1="626.45" y1="1166.6" x2="645.95" y2="1166.6" stroke="#000" stroke-width="2.2" stroke-linecap="butt"/>
<line x1="629.7" y1="1172.2" x2="642.7" y2="1172.2" stroke="#000" stroke-width="2.2" stroke-linecap="butt"/>
<line x1="632.7" y1="1178.4" x2="639.7" y2="1178.4" stroke="#000" stroke-width="2.2" stroke-linecap="butt"/>
<path d="M844,332 L844,546.5" stroke="#00e0ff" stroke-width="10" fill="none" stroke-linejoin="miter" stroke-linecap="butt"/>
<path d="M844,332 L844,546.5" stroke="#fff" stroke-width="4.6" fill="none" stroke-linejoin="miter" stroke-linecap="butt"/>
<path d="M844,332 L844,546.5" stroke="#ff1a1a" stroke-width="2.6" fill="none" stroke-linejoin="miter" stroke-linecap="butt"/>
<path d="M844,574 L844,650" stroke="#00e0ff" stroke-width="10" fill="none" stroke-linejoin="miter" stroke-linecap="butt"/>
<path d="M844,574 L844,650" stroke="#fff" stroke-width="4.6" fill="none" stroke-linejoin="miter" stroke-linecap="butt"/>
<path d="M844,574 L844,650" stroke="#ff1a1a" stroke-width="2.6" fill="none" stroke-linejoin="miter" stroke-linecap="butt"/>
<path d="M844,678 L844,797" stroke="#00e0ff" stroke-width="10" fill="none" stroke-linejoin="miter" stroke-linecap="butt"/>
<path d="M844,678 L844,797" stroke="#fff" stroke-width="4.6" fill="none" stroke-linejoin="miter" stroke-linecap="butt"/>
<path d="M844,678 L844,797" stroke="#ff1a1a" stroke-width="2.6" fill="none" stroke-linejoin="miter" stroke-linecap="butt"/>
<path d="M1034,332 L1034,797" stroke="#00e0ff" stroke-width="10" fill="none" stroke-linejoin="miter" stroke-linecap="butt"/>
<path d="M1034,332 L1034,797" stroke="#fff" stroke-width="4.6" fill="none" stroke-linejoin="miter" stroke-linecap="butt"/>
<path d="M1034,332 L1034,797" stroke="#ff1a1a" stroke-width="2.6" fill="none" stroke-linejoin="miter" stroke-linecap="butt"/>
<path d="M835.3,543.6 L844,553 L852.7,543.6" stroke="#fff" stroke-width="6.0" fill="none" stroke-linejoin="miter" stroke-linecap="round"/>
<path d="M835.3,543.6 L844,553 L852.7,543.6" stroke="#000" stroke-width="2.8" fill="none" stroke-linejoin="miter" stroke-linecap="round"/>
<path d="M835.3,536.8000000000001 L844,546.2 L852.7,536.8000000000001" stroke="#000" stroke-width="2.8" fill="none" stroke-linejoin="miter" stroke-linecap="round"/>
<path d="M835.3,647.4 L844,656.8 L852.7,647.4" stroke="#fff" stroke-width="6.0" fill="none" stroke-linejoin="miter" stroke-linecap="round"/>
<path d="M835.3,647.4 L844,656.8 L852.7,647.4" stroke="#000" stroke-width="2.8" fill="none" stroke-linejoin="miter" stroke-linecap="round"/>
<path d="M835.3,640.6 L844,650.0 L852.7,640.6" stroke="#000" stroke-width="2.8" fill="none" stroke-linejoin="miter" stroke-linecap="round"/>
<rect x="827.2" y="556.4000000000001" width="33.8" height="16.6" stroke="#000" stroke-width="2.9" fill="#fff"/>
<text x="844.1" y="569.1" font-size="12.3" text-anchor="middle" class="t" >IF1</text>
<text x="821.5" y="569" font-size="12.3" text-anchor="end" class="t" >3</text>
<rect x="827.2" y="660.0" width="33.8" height="16.6" stroke="#000" stroke-width="2.9" fill="#fff"/>
<text x="844.1" y="672.6999999999999" font-size="12.3" text-anchor="middle" class="t" >IL1</text>
<text x="821.5" y="672.6" font-size="12.3" text-anchor="end" class="t" >13</text>
<text transform="translate(837,463.4) rotate(-90)" font-size="12.3" text-anchor="start" class="t">L–R</text>
<text transform="translate(1027,463.4) rotate(-90)" font-size="12.3" text-anchor="start" class="t">L–R</text>
<text transform="translate(837,618.5) rotate(-90)" font-size="12.3" text-anchor="start" class="t">L–R</text>
<text transform="translate(837,722) rotate(-90)" font-size="12.3" text-anchor="start" class="t">L–R</text>
<rect x="827" y="797.9" width="34" height="68.2" stroke="#000" stroke-width="2.8" fill="none"/>
<line x1="844" y1="797" x2="844" y2="815" stroke="#000" stroke-width="1.9" stroke-linecap="butt"/>
<path d="M844,815 L850.4,818.5 L837.6,824.5 L850.4,830.5 L837.6,836.5 L850.4,842.5 L837.6,846.5 L844,849.7" stroke="#000" stroke-width="1.9" fill="none" stroke-linejoin="miter" stroke-linecap="butt"/>
<line x1="844" y1="849.7" x2="844" y2="868" stroke="#000" stroke-width="1.9" stroke-linecap="butt"/>
<text x="837.8" y="790" font-size="12.3" text-anchor="end" class="t" >2</text>
<text x="837" y="884" font-size="12.3" text-anchor="end" class="t" >1</text>
<text transform="translate(877,885.5) rotate(-90)" font-size="12.3" text-anchor="start" font-weight="bold">R17</text>
<text transform="translate(890.5,885.5) rotate(-90)" font-size="12.3" text-anchor="start" class="t">MIRROR</text>
<text transform="translate(903.0,885.5) rotate(-90)" font-size="12.3" text-anchor="start" class="t">HEATER RH</text>
<text transform="translate(915.5,885.5) rotate(-90)" font-size="12.3" text-anchor="start" class="t">[REMOTE CONTROL</text>
<text transform="translate(928.0,881.9) rotate(-90)" font-size="12.3" text-anchor="start" class="t">MIRROR RH]</text>
<rect x="1017" y="797.9" width="34" height="68.2" stroke="#000" stroke-width="2.8" fill="none"/>
<line x1="1034" y1="797" x2="1034" y2="815" stroke="#000" stroke-width="1.9" stroke-linecap="butt"/>
<path d="M1034,815 L1040.4,818.5 L1027.6,824.5 L1040.4,830.5 L1027.6,836.5 L1040.4,842.5 L1027.6,846.5 L1034,849.7" stroke="#000" stroke-width="1.9" fill="none" stroke-linejoin="miter" stroke-linecap="butt"/>
<line x1="1034" y1="849.7" x2="1034" y2="868" stroke="#000" stroke-width="1.9" stroke-linecap="butt"/>
<text x="1027.8" y="790" font-size="12.3" text-anchor="end" class="t" >2</text>
<text x="1027" y="884" font-size="12.3" text-anchor="end" class="t" >1</text>
<text transform="translate(1067,885.5) rotate(-90)" font-size="12.3" text-anchor="start" font-weight="bold">R16</text>
<text transform="translate(1080.5,885.5) rotate(-90)" font-size="12.3" text-anchor="start" class="t">MIRROR</text>
<text transform="translate(1093.0,885.5) rotate(-90)" font-size="12.3" text-anchor="start" class="t">HEATER LH</text>
<text transform="translate(1105.5,885.5) rotate(-90)" font-size="12.3" text-anchor="start" class="t">[REMOTE CONTROL</text>
<text transform="translate(1118.0,881.9) rotate(-90)" font-size="12.3" text-anchor="start" class="t">MIRROR LH]</text>
<path d="M843.7,867 L843.7,971" stroke="#aaa0a6" stroke-width="11.2" fill="none" stroke-linejoin="miter" stroke-linecap="butt"/>
<path d="M843.7,867 L843.7,971" stroke="#fff" stroke-width="8.8" fill="none" stroke-linejoin="miter" stroke-linecap="butt"/>
<path d="M843.7,867 L843.7,971" stroke="#000" stroke-width="2.9" fill="none" stroke-linejoin="miter" stroke-linecap="butt"/>
<path d="M843.7,997 L843.7,1489" stroke="#aaa0a6" stroke-width="11.2" fill="none" stroke-linejoin="miter" stroke-linecap="butt"/>
<path d="M843.7,997 L843.7,1489" stroke="#fff" stroke-width="8.8" fill="none" stroke-linejoin="miter" stroke-linecap="butt"/>
<path d="M843.7,997 L843.7,1489" stroke="#000" stroke-width="2.9" fill="none" stroke-linejoin="miter" stroke-linecap="butt"/>
<path d="M1034,867 L1034,1195" stroke="#aaa0a6" stroke-width="11.2" fill="none" stroke-linejoin="miter" stroke-linecap="butt"/>
<path d="M1034,867 L1034,1195" stroke="#fff" stroke-width="8.8" fill="none" stroke-linejoin="miter" stroke-linecap="butt"/>
<path d="M1034,867 L1034,1195" stroke="#000" stroke-width="2.9" fill="none" stroke-linejoin="miter" stroke-linecap="butt"/>
<path d="M1034,1335 L1034,1489" stroke="#aaa0a6" stroke-width="11.2" fill="none" stroke-linejoin="miter" stroke-linecap="butt"/>
<path d="M1034,1335 L1034,1489" stroke="#fff" stroke-width="8.8" fill="none" stroke-linejoin="miter" stroke-linecap="butt"/>
<path d="M1034,1335 L1034,1489" stroke="#000" stroke-width="2.9" fill="none" stroke-linejoin="miter" stroke-linecap="butt"/>
<path d="M835.3,999.9 L844,990.5 L852.7,999.9" stroke="#fff" stroke-width="6.0" fill="none" stroke-linejoin="miter" stroke-linecap="round"/>
<path d="M835.3,999.9 L844,990.5 L852.7,999.9" stroke="#000" stroke-width="2.8" fill="none" stroke-linejoin="miter" stroke-linecap="round"/>
<path d="M835.3,1006.6999999999999 L844,997.3 L852.7,1006.6999999999999" stroke="#000" stroke-width="2.8" fill="none" stroke-linejoin="miter" stroke-linecap="round"/>
<rect x="827.2" y="971.0" width="33.8" height="16.6" stroke="#000" stroke-width="2.9" fill="#fff"/>
<text x="844.1" y="983.6999999999999" font-size="12.3" text-anchor="middle" class="t" >IL1</text>
<text x="821.5" y="983.6" font-size="12.3" text-anchor="end" class="t" >16</text>
<text transform="translate(837,932) rotate(-90)" font-size="12.3" text-anchor="start" class="t">W–B</text>
<text transform="translate(837,1052.5) rotate(-90)" font-size="12.3" text-anchor="start" class="t">W–B</text>
<text transform="translate(837,1433.4) rotate(-90)" font-size="12.3" text-anchor="start" class="t">W–B</text>
<text transform="translate(1027,1052.5) rotate(-90)" font-size="12.3" text-anchor="start" class="t">W–B</text>
<text transform="translate(1027,1433.4) rotate(-90)" font-size="12.3" text-anchor="start" class="t">W–B</text>
<line x1="1034.3" y1="1214" x2="1034.3" y2="1315" stroke="#000" stroke-width="2.2" stroke-linecap="butt"/>
<polygon points="1027.60,1229.00 1034.30,1226.00 1041.00,1229.00 1041.00,1220.60 1034.30,1214.00 1027.60,1220.60" fill="#000"/>
<polygon points="1027.60,1300.00 1034.30,1303.00 1041.00,1300.00 1041.00,1308.40 1034.30,1315.00 1027.60,1308.40" fill="#000"/>
<rect x="1021.4000000000001" y="1195.6" width="25.6" height="16.8" rx="8.4" stroke="#000" stroke-width="3.2" fill="#c4c4c4"/>
<text x="1034.2" y="1208.4" font-size="12.3" text-anchor="middle" class="t" >1D</text>
<rect x="1021.4000000000001" y="1316.6" width="25.6" height="16.8" rx="8.4" stroke="#000" stroke-width="3.2" fill="#c4c4c4"/>
<text x="1034.2" y="1329.4" font-size="12.3" text-anchor="middle" class="t" >1J</text>
<text x="1017" y="1208.4" font-size="12.3" text-anchor="end" class="t" >10</text>
<text x="1017" y="1329.4" font-size="12.3" text-anchor="end" class="t" >1</text>
<polygon points="823.1,1489.8 864.3000000000001,1489.8 843.7,1520.2" stroke="#000" stroke-width="2.9" fill="#fff" stroke-linejoin="round"/>
<text x="843.7" y="1505" font-size="12.3" text-anchor="middle" class="t" >IH</text>
<line x1="843.7" y1="1518" x2="843.7" y2="1529" stroke="#000" stroke-width="2.2" stroke-linecap="butt"/>
<line x1="825.7" y1="1529.5" x2="861.7" y2="1529.5" stroke="#000" stroke-width="2.2" stroke-linecap="butt"/>
<line x1="833.95" y1="1535.1" x2="853.45" y2="1535.1" stroke="#000" stroke-width="2.2" stroke-linecap="butt"/>
<line x1="836.95" y1="1541.1" x2="850.45" y2="1541.1" stroke="#000" stroke-width="2.2" stroke-linecap="butt"/>
<line x1="839.7" y1="1546.6" x2="847.7" y2="1546.6" stroke="#000" stroke-width="2.2" stroke-linecap="butt"/>
<polygon points="1013.4,1489.8 1054.6,1489.8 1034,1520.2" stroke="#000" stroke-width="2.9" fill="#fff" stroke-linejoin="round"/>
<text x="1034" y="1505" font-size="12.3" text-anchor="middle" class="t" >IE</text>
<line x1="1034" y1="1518" x2="1034" y2="1529" stroke="#000" stroke-width="2.2" stroke-linecap="butt"/>
<line x1="1016.0" y1="1529.5" x2="1052.0" y2="1529.5" stroke="#000" stroke-width="2.2" stroke-linecap="butt"/>
<line x1="1024.25" y1="1535.1" x2="1043.75" y2="1535.1" stroke="#000" stroke-width="2.2" stroke-linecap="butt"/>
<line x1="1027.25" y1="1541.1" x2="1040.75" y2="1541.1" stroke="#000" stroke-width="2.2" stroke-linecap="butt"/>
<line x1="1030.0" y1="1546.6" x2="1038.0" y2="1546.6" stroke="#000" stroke-width="2.2" stroke-linecap="butt"/>
<defs><filter id="bl" x="-50%" y="-5%" width="200%" height="110%"><feGaussianBlur stdDeviation="0.5 4"/></filter></defs>
<g filter="url(#bl)">
<rect x="1052" y="343" width="2" height="437" fill="#f3f4f8"/>
<rect x="1063.5" y="343" width="1.5" height="437" fill="#f4f4f0"/>
<rect x="1072.6" y="343" width="2.6000000000001364" height="437" fill="#9ea894"/>
<rect x="1075.2" y="343" width="1.099999999999909" height="437" fill="#a88a62"/>
<rect x="1076.3" y="343" width="2.2999999999999545" height="437" fill="#f4eee4"/>
<rect x="1078.6" y="343" width="2.400000000000091" height="437" fill="#7e766c"/>
<rect x="1081" y="343" width="1.2999999999999545" height="437" fill="#c4c4ee"/>
<rect x="1082.3" y="343" width="3.6000000000001364" height="437" fill="#16141c"/>
<rect x="1085.9" y="343" width="2.3999999999998636" height="437" fill="#463a52"/>
<rect x="1088.3" y="343" width="1.7000000000000455" height="437" fill="#6e6e5e"/>
<rect x="1090" y="343" width="2.2000000000000455" height="437" fill="#d4a678"/>
</g>
</svg>
</body></html>
